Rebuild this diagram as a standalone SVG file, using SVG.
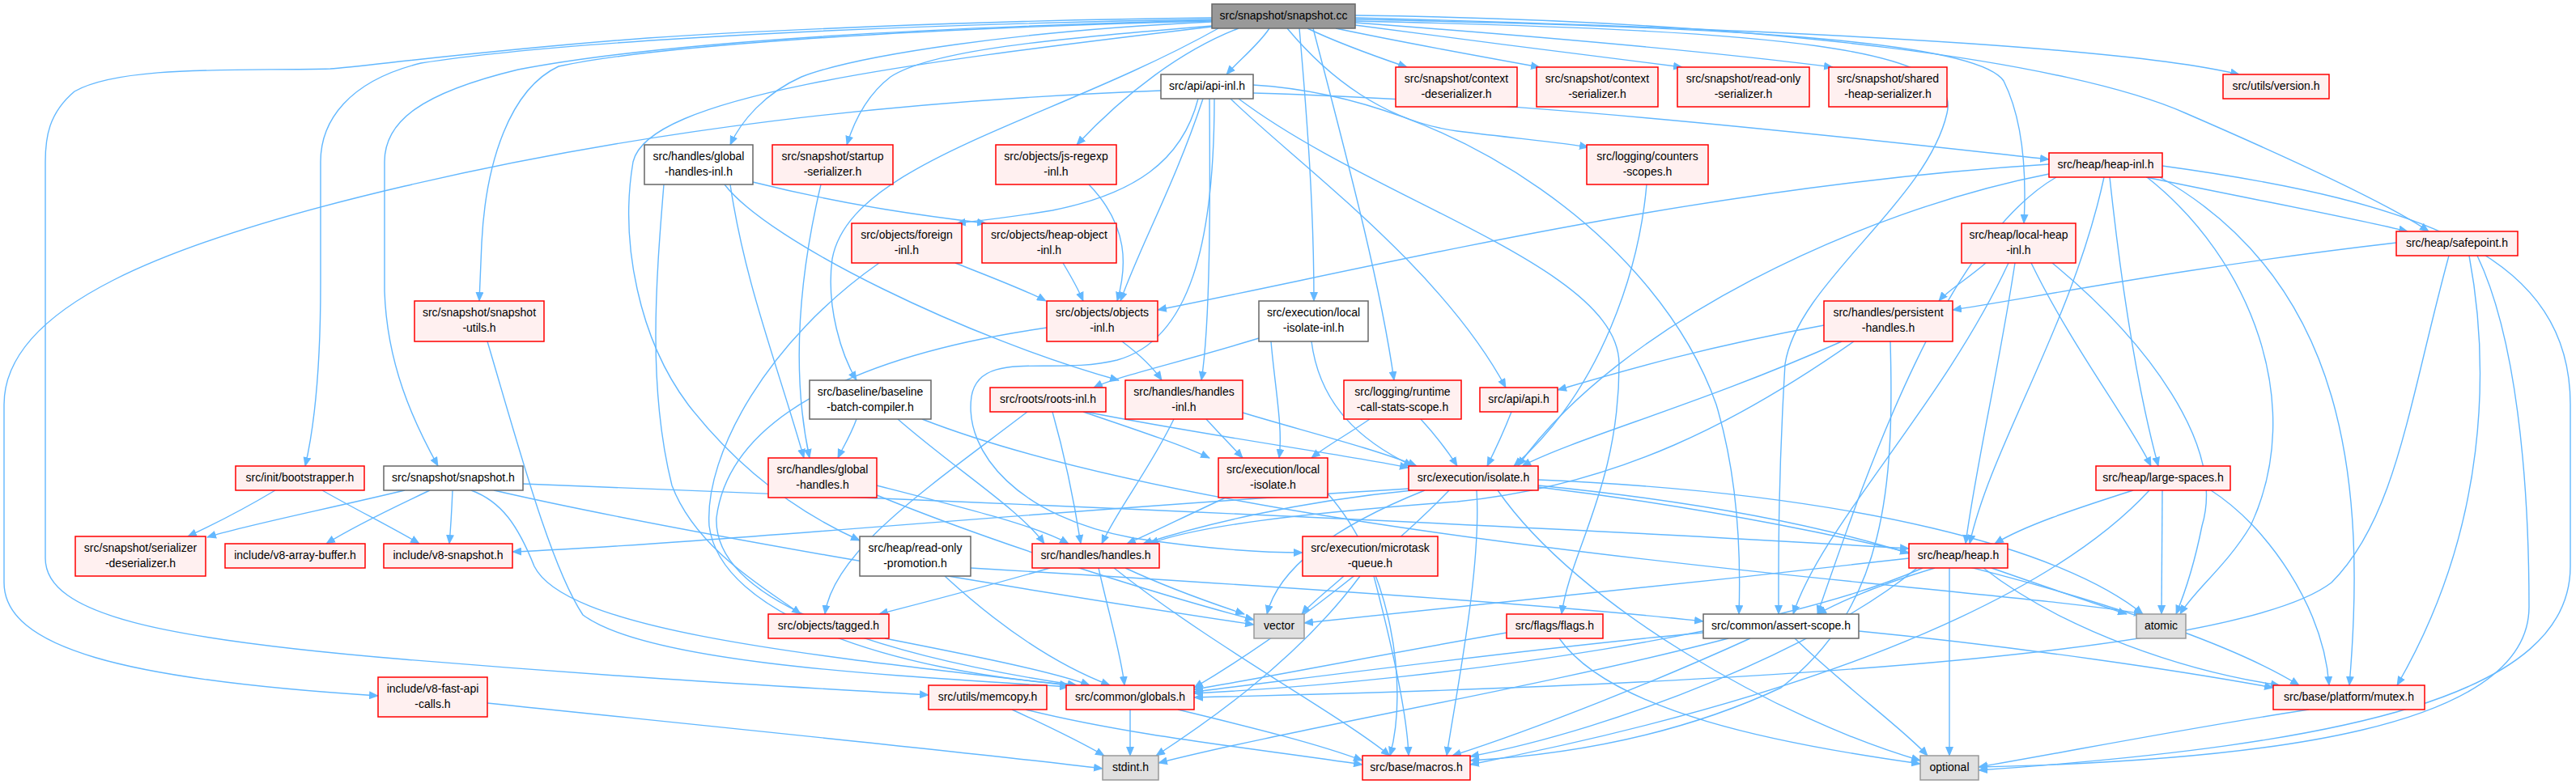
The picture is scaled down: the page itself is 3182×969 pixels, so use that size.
<svg xmlns="http://www.w3.org/2000/svg" width="3182" height="969" viewBox="0 0 3182 969">
<defs>
<style>
.e{fill:none;stroke:#63b8ff;stroke-width:1.4;marker-end:url(#a)}
.r{fill:#fff0f0;stroke:#ff0000;stroke-width:1.5}
.w{fill:#ffffff;stroke:#666666;stroke-width:1.5}
.g{fill:#e0e0e0;stroke:#999999;stroke-width:1.5}
.root{fill:#999999;stroke:#666666;stroke-width:1.5}
text{font-family:"Liberation Sans",Arial,sans-serif;font-size:14px;fill:#000;text-anchor:middle}
</style>
<marker id="a" markerWidth="12" markerHeight="10" refX="11" refY="5" orient="auto" markerUnits="userSpaceOnUse"><path d="M0,0 L12,5 L0,10 z" fill="#63b8ff"/></marker>
</defs>
<rect width="3182" height="969" fill="#ffffff"/>
<g id="edges">
<path class="e" d="M1568,35 C1555,55 1530,75 1515,92"/>
<path class="e" d="M1615,35 C1650,52 1700,70 1738,83"/>
<path class="e" d="M1650,35 C1730,52 1830,70 1902,83"/>
<path class="e" d="M1674,31 C1800,48 1960,68 2078,83"/>
<path class="e" d="M1674,28 C1860,42 2100,62 2264,83"/>
<path class="e" d="M1674,22 C2050,32 2600,52 2766,92"/>
<path class="e" d="M1497,27 C1260,38 1060,68 990,95 C945,115 915,150 902,179"/>
<path class="e" d="M1497,32 C1300,48 1150,62 1100,95 C1070,118 1055,150 1046,179"/>
<path class="e" d="M1530,35 C1460,62 1390,115 1330,179"/>
<path class="e" d="M1590,35 C1640,95 1710,150 1800,162 C1880,172 1930,176 1962,182"/>
<path class="e" d="M1674,24 C2100,32 2440,48 2475,100 C2500,150 2503,220 2500,276"/>
<path class="e" d="M1674,19 C2200,26 2560,78 2700,140 C2850,205 2955,255 3000,286"/>
<path class="e" d="M1497,26 C1100,36 800,58 690,82 C630,110 600,200 595,300 L592,372"/>
<path class="e" d="M1605,35 C1615,150 1623,260 1623,372"/>
<path class="e" d="M1505,35 C1300,150 1050,200 1028,320 C1020,380 1040,440 1058,470"/>
<path class="e" d="M1622,35 C1665,200 1705,350 1722,470"/>
<path class="e" d="M1497,24 C1100,30 700,50 520,78 C430,100 396,150 396,200 L396,350 C396,450 390,520 377,576"/>
<path class="e" d="M1497,25 C1100,35 800,55 640,86 C520,115 475,150 475,200 L475,360 C478,450 510,520 541,576"/>
<path class="e" d="M1497,33 C1100,80 800,120 782,200 C765,300 790,420 850,500 C920,590 1000,640 1062,668"/>
<path class="e" d="M1674,26 C2200,38 2425,58 2405,140 C2380,250 2220,350 2205,450 C2196,600 2197,700 2197,759"/>
<path class="e" d="M1497,22 C1200,25 900,40 800,47 C600,62 450,82 408,85 C300,88 150,80 92,113 C60,140 56,170 56,200 L56,690 C56,760 200,790 500,815 C800,840 1000,850 1147,859"/>
<path class="e" d="M1434,112 C1100,125 800,160 500,230 C200,300 5,380 5,500 L5,720 C5,800 150,840 467,860"/>
<path class="e" d="M1548,115 C1900,125 2300,172 2531,197"/>
<path class="e" d="M1480,122 C1460,200 1400,240 1300,260 C1240,270 1205,273 1182,276"/>
<path class="e" d="M1486,122 C1450,230 1410,300 1384,372"/>
<path class="e" d="M1494,122 C1495,250 1495,400 1484,470"/>
<path class="e" d="M1500,122 C1500,300 1470,420 1380,445 C1300,465 1210,430 1200,490 C1190,560 1260,640 1400,665 C1500,680 1560,683 1609,683"/>
<path class="e" d="M1520,122 C1600,200 1780,330 1860,479"/>
<path class="e" d="M1530,122 C1700,250 2000,330 2000,450 C2000,600 1940,680 1929,759"/>
<path class="e" d="M1548,105 C1800,120 2050,300 2120,500 C2150,600 2150,700 2148,759"/>
<path class="e" d="M930,225 C1050,255 1150,268 1218,276"/>
<path class="e" d="M902,228 C920,350 960,450 993,566"/>
<path class="e" d="M895,228 C950,300 1200,420 1382,470"/>
<path class="e" d="M820,228 C810,350 800,480 830,600 C860,680 950,730 989,759"/>
<path class="e" d="M1014,228 C990,330 975,450 1000,566"/>
<path class="e" d="M1345,228 C1395,280 1392,330 1380,372"/>
<path class="e" d="M2034,228 C2025,330 1980,480 1870,576"/>
<path class="e" d="M2651,219 C2800,250 2900,268 2974,286"/>
<path class="e" d="M2531,203 C2100,230 1700,330 1430,383"/>
<path class="e" d="M2531,215 C2300,260 2000,400 1875,576"/>
<path class="e" d="M2606,219 C2620,350 2640,480 2666,576"/>
<path class="e" d="M2599,219 C2560,400 2460,550 2433,672"/>
<path class="e" d="M2540,219 C2400,300 2300,600 2245,759"/>
<path class="e" d="M2668,219 C2900,350 2923,600 2902,847"/>
<path class="e" d="M2652,219 C2780,320 2850,500 2780,650 C2750,700 2710,730 2693,759"/>
<path class="e" d="M2671,205 C3000,250 3175,320 3175,500 L3175,700 C3175,860 2900,920 2444,952"/>
<path class="e" d="M2453,325 C2430,345 2405,360 2395,372"/>
<path class="e" d="M2489,325 C2470,450 2440,580 2428,672"/>
<path class="e" d="M2509,325 C2560,430 2630,520 2657,576"/>
<path class="e" d="M2535,325 C2650,420 2750,550 2720,650 C2710,700 2700,730 2688,759"/>
<path class="e" d="M2481,325 C2400,500 2250,650 2215,759"/>
<path class="e" d="M2960,300 C2700,330 2500,370 2412,383"/>
<path class="e" d="M3050,316 C3075,450 3075,650 2961,847"/>
<path class="e" d="M3025,316 C2975,500 2960,640 2880,720 C2750,820 2000,850 1475,862"/>
<path class="e" d="M3060,316 C3124,450 3124,700 3124,750 C3124,900 2800,940 2444,948"/>
<path class="e" d="M2253,402 C2100,430 2000,460 1924,482"/>
<path class="e" d="M2275,422 C2100,500 1950,540 1880,576"/>
<path class="e" d="M2335,422 C2340,600 2330,750 2200,850 C2050,920 1900,935 1816,940"/>
<path class="e" d="M2290,422 C2150,520 2000,600 1800,620 C1600,635 1480,650 1420,672"/>
<path class="e" d="M1386,422 C1410,440 1425,455 1435,470"/>
<path class="e" d="M1293,405 C1050,440 900,520 885,640 C880,760 1150,820 1330,847"/>
<path class="e" d="M1555,418 C1450,450 1380,465 1351,479"/>
<path class="e" d="M1570,422 C1575,480 1585,530 1580,566"/>
<path class="e" d="M1620,422 C1630,500 1680,545 1745,576"/>
<path class="e" d="M1058,518 C1050,540 1040,555 1035,566"/>
<path class="e" d="M1109,518 C1180,580 1260,630 1290,672"/>
<path class="e" d="M1139,518 C1400,620 1900,680 2300,720 C2500,740 2600,750 2647,759"/>
<path class="e" d="M1269,509 C1150,600 1030,680 1019,759"/>
<path class="e" d="M1300,509 C1320,580 1330,640 1335,672"/>
<path class="e" d="M1338,509 C1400,530 1460,550 1494,566"/>
<path class="e" d="M1341,509 C1500,540 1650,560 1740,578"/>
<path class="e" d="M1450,518 C1420,580 1380,630 1361,672"/>
<path class="e" d="M1490,518 C1510,540 1525,555 1535,566"/>
<path class="e" d="M1535,510 C1600,530 1700,555 1750,576"/>
<path class="e" d="M1692,518 C1660,540 1640,550 1620,566"/>
<path class="e" d="M1755,518 C1775,540 1790,560 1800,576"/>
<path class="e" d="M1867,509 C1855,540 1845,560 1837,576"/>
<path class="e" d="M340,606 C300,630 260,650 232,663"/>
<path class="e" d="M398,606 C440,630 490,655 518,672"/>
<path class="e" d="M500,606 C400,630 300,650 256,664"/>
<path class="e" d="M531,606 C480,630 430,655 403,672"/>
<path class="e" d="M559,606 C558,630 557,650 555,672"/>
<path class="e" d="M582,606 C620,620 640,650 660,700 C700,780 1000,810 1320,847"/>
<path class="e" d="M610,606 C800,650 1200,720 1549,772"/>
<path class="e" d="M646,598 C1200,620 1900,650 2358,678"/>
<path class="e" d="M1167,712 C1230,770 1300,820 1371,847"/>
<path class="e" d="M1199,702 C1500,720 1900,745 2104,768"/>
<path class="e" d="M1297,702 C1200,730 1120,750 1086,759"/>
<path class="e" d="M1357,702 C1370,760 1385,810 1389,847"/>
<path class="e" d="M1390,702 C1450,730 1510,750 1537,759"/>
<path class="e" d="M1376,702 C1500,800 1650,880 1717,934"/>
<path class="e" d="M1660,712 C1640,730 1620,745 1608,759"/>
<path class="e" d="M1680,712 C1600,820 1480,900 1428,934"/>
<path class="e" d="M1697,712 C1720,800 1738,880 1740,934"/>
<path class="e" d="M1740,604 C1300,630 900,670 633,682"/>
<path class="e" d="M1745,606 C1600,620 1480,650 1412,672"/>
<path class="e" d="M1760,606 C1650,650 1580,700 1565,759"/>
<path class="e" d="M1790,606 C1700,700 1560,800 1475,850"/>
<path class="e" d="M1824,606 C1830,700 1800,850 1787,934"/>
<path class="e" d="M1900,600 C2100,620 2250,650 2358,684"/>
<path class="e" d="M1900,593 C2300,610 2550,680 2647,759"/>
<path class="e" d="M1900,602 C2300,650 2700,760 2840,847"/>
<path class="e" d="M1850,606 C1950,750 2200,890 2372,940"/>
<path class="e" d="M2358,690 C2100,720 1800,750 1611,770"/>
<path class="e" d="M2390,702 C2330,720 2280,740 2245,759"/>
<path class="e" d="M2460,702 C2540,730 2600,750 2627,759"/>
<path class="e" d="M2408,702 L2408,934"/>
<path class="e" d="M2450,702 C2550,780 2700,830 2816,847"/>
<path class="e" d="M2375,702 C2200,780 1800,840 1475,857"/>
<path class="e" d="M2368,702 C2250,800 2000,900 1816,935"/>
<path class="e" d="M2635,606 C2560,630 2500,650 2464,672"/>
<path class="e" d="M2671,606 L2670,759"/>
<path class="e" d="M2731,606 C2800,650 2870,750 2877,847"/>
<path class="e" d="M2655,606 C2550,720 2300,850 1816,945"/>
<path class="e" d="M2104,782 C1900,800 1600,840 1475,855"/>
<path class="e" d="M2162,789 C2050,840 1900,900 1794,934"/>
<path class="e" d="M2217,789 C2280,850 2350,900 2381,934"/>
<path class="e" d="M2296,780 C2500,800 2700,830 2808,850"/>
<path class="e" d="M2135,789 C1900,850 1600,900 1431,943"/>
<path class="e" d="M1861,782 C1700,810 1550,840 1475,852"/>
<path class="e" d="M1926,789 C1990,880 2200,920 2372,944"/>
<path class="e" d="M2852,877 C2700,900 2550,930 2444,948"/>
<path class="e" d="M1093,789 C1200,810 1300,830 1346,847"/>
<path class="e" d="M1396,877 L1396,934"/>
<path class="e" d="M1455,877 C1550,900 1630,920 1683,940"/>
<path class="e" d="M1250,877 C1300,900 1340,920 1364,934"/>
<path class="e" d="M1267,877 C1400,910 1550,925 1683,945"/>
<path class="e" d="M602,869 C900,900 1200,930 1362,950"/>
<path class="e" d="M602,422 C640,550 680,700 720,760 C800,820 1100,835 1320,849"/>
<path class="e" d="M1180,325 C1230,345 1270,360 1292,372"/>
<path class="e" d="M1086,325 C950,420 870,560 876,650 C890,760 1100,830 1330,847"/>
<path class="e" d="M1313,325 C1325,345 1333,360 1338,372"/>
<path class="e" d="M1514,615 C1460,640 1420,660 1392,672"/>
<path class="e" d="M1640,610 C1720,700 1740,850 1717,934"/>
<path class="e" d="M1083,600 C1200,630 1280,650 1320,672"/>
<path class="e" d="M1083,612 C1250,680 1450,740 1549,766"/>
</g>
<g id="snapshot_cc"><rect class="root" x="1497" y="5" width="177" height="30"/><text x="1585.5" y="24">src/snapshot/snapshot.cc</text></g>
<g id="api_inl"><rect class="w" x="1434" y="92" width="114" height="30"/><text x="1491" y="111">src/api/api-inl.h</text></g>
<g id="ctx_deser"><rect class="r" x="1724" y="83" width="150" height="49"/><text x="1799" y="102">src/snapshot/context</text><text x="1799" y="121">-deserializer.h</text></g>
<g id="ctx_ser"><rect class="r" x="1898" y="83" width="150" height="49"/><text x="1973" y="102">src/snapshot/context</text><text x="1973" y="121">-serializer.h</text></g>
<g id="ro_ser"><rect class="r" x="2072" y="83" width="163" height="49"/><text x="2153.5" y="102">src/snapshot/read-only</text><text x="2153.5" y="121">-serializer.h</text></g>
<g id="shared_ser"><rect class="r" x="2259" y="83" width="146" height="49"/><text x="2332" y="102">src/snapshot/shared</text><text x="2332" y="121">-heap-serializer.h</text></g>
<g id="version"><rect class="r" x="2746" y="92" width="131" height="30"/><text x="2811.5" y="111">src/utils/version.h</text></g>
<g id="gh_inl"><rect class="w" x="796" y="179" width="134" height="49"/><text x="863" y="198">src/handles/global</text><text x="863" y="217">-handles-inl.h</text></g>
<g id="startup_ser"><rect class="r" x="954" y="179" width="149" height="49"/><text x="1028.5" y="198">src/snapshot/startup</text><text x="1028.5" y="217">-serializer.h</text></g>
<g id="jsregexp"><rect class="r" x="1230" y="179" width="149" height="49"/><text x="1304.5" y="198">src/objects/js-regexp</text><text x="1304.5" y="217">-inl.h</text></g>
<g id="counters"><rect class="r" x="1960" y="179" width="150" height="49"/><text x="2035" y="198">src/logging/counters</text><text x="2035" y="217">-scopes.h</text></g>
<g id="heap_inl"><rect class="r" x="2531" y="189" width="140" height="30"/><text x="2601" y="208">src/heap/heap-inl.h</text></g>
<g id="foreign_inl"><rect class="r" x="1052" y="276" width="136" height="49"/><text x="1120" y="295">src/objects/foreign</text><text x="1120" y="314">-inl.h</text></g>
<g id="heapobj_inl"><rect class="r" x="1213" y="276" width="166" height="49"/><text x="1296" y="295">src/objects/heap-object</text><text x="1296" y="314">-inl.h</text></g>
<g id="localheap_inl"><rect class="r" x="2423" y="276" width="141" height="49"/><text x="2493.5" y="295">src/heap/local-heap</text><text x="2493.5" y="314">-inl.h</text></g>
<g id="safepoint"><rect class="r" x="2960" y="286" width="150" height="30"/><text x="3035" y="305">src/heap/safepoint.h</text></g>
<g id="snapshot_utils"><rect class="r" x="512" y="372" width="160" height="50"/><text x="592" y="391">src/snapshot/snapshot</text><text x="592" y="410">-utils.h</text></g>
<g id="objects_inl"><rect class="r" x="1293" y="372" width="137" height="50"/><text x="1361.5" y="391">src/objects/objects</text><text x="1361.5" y="410">-inl.h</text></g>
<g id="localiso_inl"><rect class="w" x="1555" y="372" width="135" height="50"/><text x="1622.5" y="391">src/execution/local</text><text x="1622.5" y="410">-isolate-inl.h</text></g>
<g id="persistent"><rect class="r" x="2253" y="372" width="159" height="50"/><text x="2332.5" y="391">src/handles/persistent</text><text x="2332.5" y="410">-handles.h</text></g>
<g id="baseline"><rect class="w" x="1000" y="470" width="150" height="48"/><text x="1075" y="489">src/baseline/baseline</text><text x="1075" y="508">-batch-compiler.h</text></g>
<g id="roots_inl"><rect class="r" x="1223" y="479" width="143" height="30"/><text x="1294.5" y="498">src/roots/roots-inl.h</text></g>
<g id="handles_inl"><rect class="r" x="1390" y="470" width="145" height="48"/><text x="1462.5" y="489">src/handles/handles</text><text x="1462.5" y="508">-inl.h</text></g>
<g id="rcs_scope"><rect class="r" x="1660" y="470" width="145" height="48"/><text x="1732.5" y="489">src/logging/runtime</text><text x="1732.5" y="508">-call-stats-scope.h</text></g>
<g id="api_h"><rect class="r" x="1828" y="479" width="96" height="30"/><text x="1876" y="498">src/api/api.h</text></g>
<g id="bootstrapper"><rect class="r" x="291" y="576" width="159" height="30"/><text x="370.5" y="595">src/init/bootstrapper.h</text></g>
<g id="snapshot_h"><rect class="w" x="474" y="576" width="172" height="30"/><text x="560" y="595">src/snapshot/snapshot.h</text></g>
<g id="global_handles"><rect class="r" x="949" y="566" width="134" height="49"/><text x="1016" y="585">src/handles/global</text><text x="1016" y="604">-handles.h</text></g>
<g id="local_isolate"><rect class="r" x="1505" y="566" width="135" height="49"/><text x="1572.5" y="585">src/execution/local</text><text x="1572.5" y="604">-isolate.h</text></g>
<g id="isolate"><rect class="r" x="1740" y="576" width="160" height="30"/><text x="1820" y="595">src/execution/isolate.h</text></g>
<g id="large_spaces"><rect class="r" x="2589" y="576" width="166" height="30"/><text x="2672" y="595">src/heap/large-spaces.h</text></g>
<g id="ser_deser"><rect class="r" x="93" y="663" width="161" height="49"/><text x="173.5" y="682">src/snapshot/serializer</text><text x="173.5" y="701">-deserializer.h</text></g>
<g id="v8_ab"><rect class="r" x="278" y="672" width="173" height="30"/><text x="364.5" y="691">include/v8-array-buffer.h</text></g>
<g id="v8_snap"><rect class="r" x="474" y="672" width="159" height="30"/><text x="553.5" y="691">include/v8-snapshot.h</text></g>
<g id="ro_promo"><rect class="w" x="1062" y="663" width="137" height="49"/><text x="1130.5" y="682">src/heap/read-only</text><text x="1130.5" y="701">-promotion.h</text></g>
<g id="handles_h"><rect class="r" x="1275" y="672" width="157" height="30"/><text x="1353.5" y="691">src/handles/handles.h</text></g>
<g id="microtask"><rect class="r" x="1609" y="663" width="167" height="49"/><text x="1692.5" y="682">src/execution/microtask</text><text x="1692.5" y="701">-queue.h</text></g>
<g id="heap_h"><rect class="r" x="2358" y="672" width="122" height="30"/><text x="2419" y="691">src/heap/heap.h</text></g>
<g id="tagged"><rect class="r" x="949" y="759" width="149" height="30"/><text x="1023.5" y="778">src/objects/tagged.h</text></g>
<g id="vector"><rect class="g" x="1549" y="759" width="62" height="30"/><text x="1580" y="778">vector</text></g>
<g id="flags"><rect class="r" x="1861" y="759" width="119" height="30"/><text x="1920.5" y="778">src/flags/flags.h</text></g>
<g id="assert_scope"><rect class="w" x="2104" y="759" width="192" height="30"/><text x="2200" y="778">src/common/assert-scope.h</text></g>
<g id="atomic"><rect class="g" x="2639" y="759" width="61" height="30"/><text x="2669.5" y="778">atomic</text></g>
<g id="fast_api"><rect class="r" x="467" y="837" width="135" height="49"/><text x="534.5" y="856">include/v8-fast-api</text><text x="534.5" y="875">-calls.h</text></g>
<g id="memcopy"><rect class="r" x="1147" y="847" width="146" height="30"/><text x="1220" y="866">src/utils/memcopy.h</text></g>
<g id="globals"><rect class="r" x="1317" y="847" width="158" height="30"/><text x="1396" y="866">src/common/globals.h</text></g>
<g id="mutex"><rect class="r" x="2808" y="847" width="187" height="30"/><text x="2901.5" y="866">src/base/platform/mutex.h</text></g>
<g id="stdint"><rect class="g" x="1362" y="934" width="69" height="30"/><text x="1396.5" y="953">stdint.h</text></g>
<g id="macros"><rect class="r" x="1683" y="934" width="133" height="30"/><text x="1749.5" y="953">src/base/macros.h</text></g>
<g id="optional"><rect class="g" x="2372" y="934" width="72" height="30"/><text x="2408" y="953">optional</text></g>
</svg>
